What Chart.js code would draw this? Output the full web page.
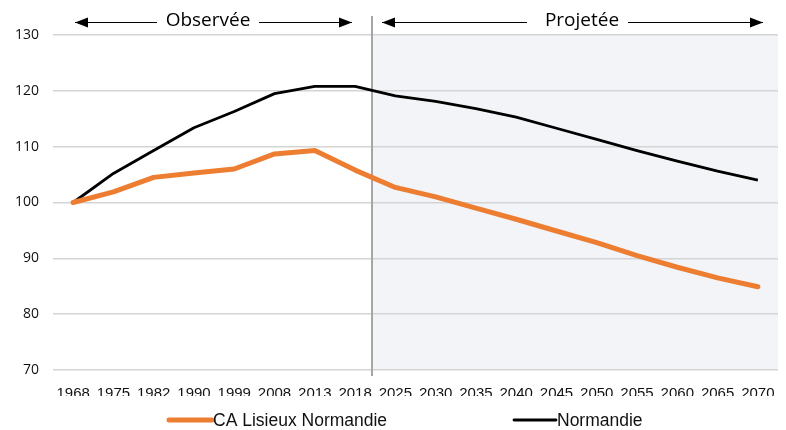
<!DOCTYPE html>
<html>
<head>
<meta charset="utf-8">
<script src="https://cdn.jsdelivr.net/npm/chart.js@4/dist/chart.umd.min.js"></script>
<style>
  html, body { margin: 0; padding: 0; background: #fff; }
  #wrap { width: 786px; height: 430px; }
</style>
</head>
<body>
<div id="wrap"><canvas id="evolution"></canvas></div>
<script>
const annees = ['1968', '1975', '1982', '1990', '1999', '2008', '2013', '2018', '2025', '2030',
    '2035', '2040', '2045', '2050', '2055', '2060', '2065', '2070'];
const lisieux = [100, 101.9, 104.5, 105.3, 106.0, 108.7, 109.3, 105.8, 102.7, 101.0,
    99.0, 97.0, 94.9, 92.8, 90.5, 88.4, 86.5, 84.9];
const normandie = [100, 105.2, 109.3, 113.4, 116.3, 119.5, 120.8, 120.8, 119.1, 118.1,
    116.8, 115.3, 113.3, 111.3, 109.3, 107.4, 105.6, 104.0];
const graduations = [70, 80, 90, 100, 110, 120, 130];
const coupure = 7.42; // entre 2018 et 2025

const etroite = "'Liberation Sans', sans-serif";

function fleche(c, x1, x2, y, dir) {
    // dir = -1 : pointe a gauche, 1 : pointe a droite
    c.beginPath();
    c.moveTo(x1, y);
    c.lineTo(x2, y);
    c.stroke();
    const tip = dir < 0 ? x1 : x2;
    c.beginPath();
    c.moveTo(tip, y);
    c.lineTo(tip - dir * 13, y - 5);
    c.lineTo(tip - dir * 13, y + 5);
    c.closePath();
    c.fill();
}

const fondProjete = {
    id: 'fondProjete',
    beforeDraw(chart) {
        const c = chart.ctx, a = chart.chartArea;
        const x = chart.scales.x.getPixelForValue(coupure);
        c.save();
        c.fillStyle = '#f2f4f8';
        c.fillRect(x, a.top, a.right - x, a.bottom - a.top);
        c.restore();
    },
    beforeDatasetsDraw(chart) {
        const c = chart.ctx, a = chart.chartArea;
        const x = chart.scales.x.getPixelForValue(coupure);
        c.save();
        c.strokeStyle = '#a6a6a6';
        c.lineWidth = 2;
        c.beginPath();
        c.moveTo(x, 16);
        c.lineTo(x, a.bottom + 6);
        c.stroke();
        c.restore();
    },
    afterDraw(chart) {
        const c = chart.ctx;
        c.save();
        c.strokeStyle = '#000';
        c.fillStyle = '#000';
        c.lineWidth = 1;
        // periodes
        c.font = "19px 'Open Sans', sans-serif";
        c.textAlign = 'center';
        c.textBaseline = 'middle';
        c.fillText('Observée', 208, 21);
        c.fillText('Projetée', 582, 21);
        fleche(c, 75, 157, 22.5, -1);
        fleche(c, 259, 352, 22.5, 1);
        fleche(c, 382, 527, 22.5, -1);
        fleche(c, 628, 763, 22.5, 1);

        // legende
        c.font = '17.5px ' + etroite;
        c.textAlign = 'left';
        c.lineCap = 'round';
        const items = [
            { x: 169, w: 43, ds: chart.data.datasets[0] },
            { x: 514, w: 42, ds: chart.data.datasets[1] }
        ];
        items.forEach(it => {
            c.strokeStyle = it.ds.borderColor;
            c.lineWidth = it.ds.borderWidth;
            c.beginPath();
            c.moveTo(it.x, 420);
            c.lineTo(it.x + it.w, 420);
            c.stroke();
            c.fillStyle = '#111';
            c.fillText(it.ds.label, it.x + it.w + 1, 421);
        });
        c.restore();
    }
};

const ctx = document.getElementById('evolution');

const graphique = new Chart(ctx, {
    type: 'line',
    data: {
        labels: annees,
        datasets: [
            {
                label: 'CA Lisieux Normandie',
                data: lisieux,
                borderColor: '#ed7d31',
                backgroundColor: '#ed7d31',
                borderWidth: 5,
                pointRadius: 0,
                tension: 0,
                borderCapStyle: 'round',
                borderJoinStyle: 'round'
            },
            {
                label: 'Normandie',
                data: normandie,
                borderColor: '#000000',
                backgroundColor: '#000000',
                borderWidth: 2.8,
                pointRadius: 0,
                tension: 0,
                borderJoinStyle: 'round'
            }
        ]
    },
    options: {
        responsive: true,
        maintainAspectRatio: false,
        animation: false,
        layout: { padding: { top: 35, right: 8, bottom: 34, left: 0 } },
        plugins: {
            legend: { display: false },
            tooltip: { enabled: false }
        },
        scales: {
            x: {
                offset: true,
                grid: { display: false },
                border: { display: false },
                ticks: {
                    color: '#111',
                    font: { family: etroite, size: 15 },
                    maxRotation: 0,
                    autoSkip: false,
                    padding: 7
                },
                afterFit(scale) { scale.height = 26; }
            },
            y: {
                min: 70,
                max: 130,
                afterBuildTicks(scale) {
                    scale.ticks = graduations.map(v => ({ value: v }));
                },
                grid: { color: '#d4d4d4', lineWidth: 1.5, drawTicks: false },
                border: { display: false },
                ticks: {
                    color: '#111',
                    font: { family: "'Open Sans', sans-serif", size: 14 },
                    padding: 14
                },
                afterFit(scale) { scale.width = 53; }
            }
        }
    },
    plugins: [fondProjete]
});
</script>
</body>
</html>
